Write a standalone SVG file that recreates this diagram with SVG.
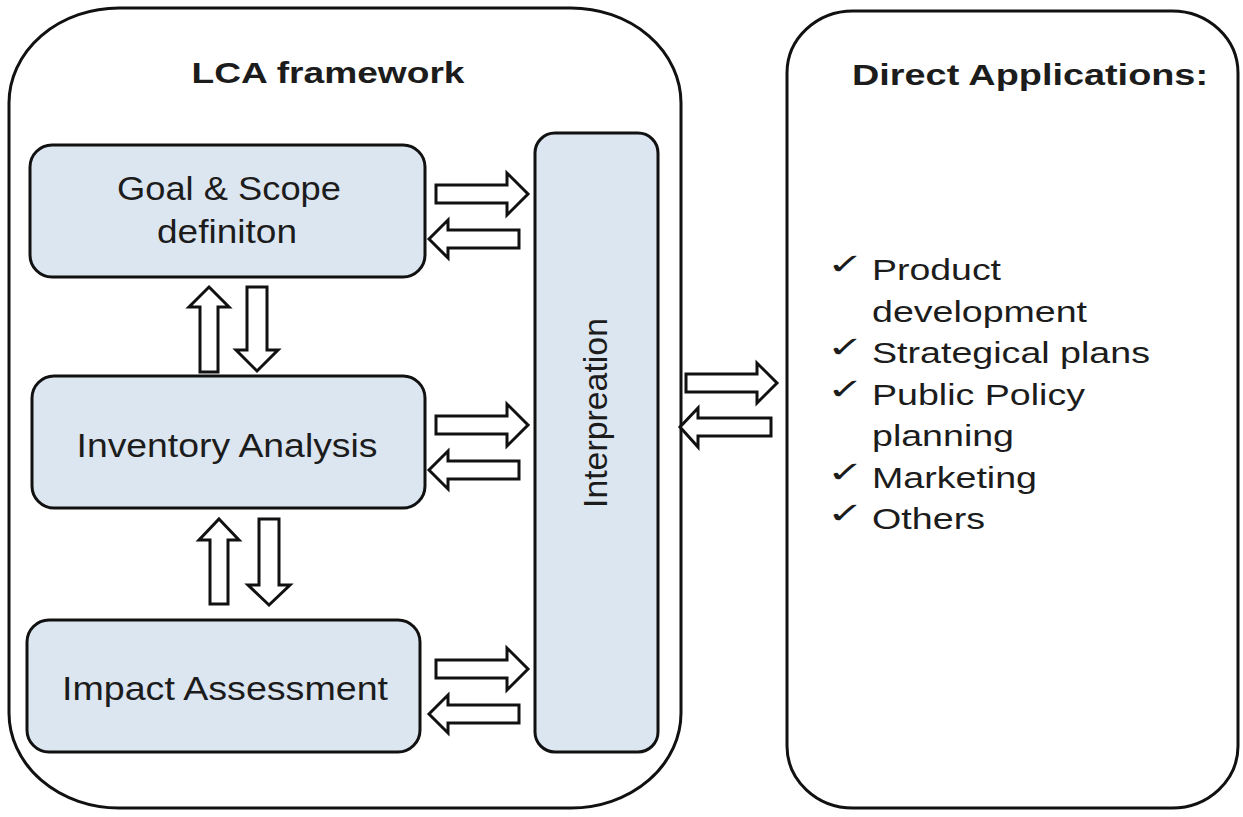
<svg xmlns="http://www.w3.org/2000/svg" width="1243" height="817" viewBox="0 0 1243 817">
<style>
.frame{fill:#ffffff;stroke:#111;stroke-width:3}
.box{fill:#dce6f1;stroke:#111;stroke-width:3}
.arr{fill:#ffffff;stroke:#111;stroke-width:3;stroke-linejoin:miter}
.t{font-family:"Liberation Sans",Arial,sans-serif;fill:#1c1c1c}
.b{font-weight:bold;font-size:30px}
.n{font-size:33px}
.l{font-size:30px}
.ck{font-family:"DejaVu Sans",sans-serif;font-size:34px;fill:#1c1c1c}
</style>
<rect width="1243" height="817" fill="#ffffff"/>

<g id="lca-framework">
<rect class="frame" x="9" y="8" width="672" height="800" rx="110" ry="95"/>
<text class="t b" x="328" y="83" text-anchor="middle" textLength="273" lengthAdjust="spacingAndGlyphs">LCA framework</text>
</g>

<g id="direct-applications">
<rect class="frame" x="787" y="11" width="451" height="797" rx="66" ry="62"/>
<text class="t b" x="852" y="85" textLength="356" lengthAdjust="spacingAndGlyphs">Direct Applications:</text>
<text class="ck" transform="translate(827,274) scale(1.3,0.85)">✓</text>
<text class="ck" transform="translate(827,357) scale(1.3,0.85)">✓</text>
<text class="ck" transform="translate(827,398.5) scale(1.3,0.85)">✓</text>
<text class="ck" transform="translate(827,481.5) scale(1.3,0.85)">✓</text>
<text class="ck" transform="translate(827,523) scale(1.3,0.85)">✓</text>
<text class="t l" x="872" y="280" textLength="129" lengthAdjust="spacingAndGlyphs">Product</text>
<text class="t l" x="872" y="321.5" textLength="215" lengthAdjust="spacingAndGlyphs">development</text>
<text class="t l" x="872" y="363" textLength="278" lengthAdjust="spacingAndGlyphs">Strategical plans</text>
<text class="t l" x="872" y="404.5" textLength="213" lengthAdjust="spacingAndGlyphs">Public Policy</text>
<text class="t l" x="872" y="446" textLength="142" lengthAdjust="spacingAndGlyphs">planning</text>
<text class="t l" x="872" y="487.5" textLength="165" lengthAdjust="spacingAndGlyphs">Marketing</text>
<text class="t l" x="872" y="529" textLength="113" lengthAdjust="spacingAndGlyphs">Others</text>
</g>

<g id="goal-scope">
<rect class="box" x="30" y="145" width="395" height="132" rx="22"/>
<text class="t n" x="229" y="200" text-anchor="middle" textLength="224" lengthAdjust="spacingAndGlyphs">Goal &amp; Scope</text>
<text class="t n" x="227" y="243" text-anchor="middle" textLength="140" lengthAdjust="spacingAndGlyphs">definiton</text>
</g>

<g id="inventory-analysis">
<rect class="box" x="32" y="376" width="393" height="132" rx="22"/>
<text class="t n" x="227" y="457" text-anchor="middle" textLength="301" lengthAdjust="spacingAndGlyphs">Inventory Analysis</text>
</g>

<g id="impact-assessment">
<rect class="box" x="27" y="620" width="393" height="132" rx="22"/>
<text class="t n" x="225" y="700" text-anchor="middle" textLength="326" lengthAdjust="spacingAndGlyphs">Impact Assessment</text>
</g>

<g id="interpretation">
<rect class="box" x="535" y="133" width="123" height="619" rx="20"/>
<text class="t n" transform="translate(607,413) rotate(-90)" x="0" y="0" text-anchor="middle" textLength="190" lengthAdjust="spacingAndGlyphs">Interpreation</text>
</g>

<g id="connectors">
<polygon class="arr" points="436,185 507,185 507,173 528,194 507,215 507,203 436,203"/>
<polygon class="arr" points="519,230 448,230 448,220 429,239 448,258 448,248 519,248"/>
<polygon class="arr" points="436,416 507,416 507,404 528,425 507,446 507,434 436,434"/>
<polygon class="arr" points="519,461 448,461 448,451 429,470 448,489 448,479 519,479"/>
<polygon class="arr" points="436,660 507,660 507,648 528,669 507,690 507,678 436,678"/>
<polygon class="arr" points="519,705 448,705 448,695 429,714 448,733 448,723 519,723"/>
<polygon class="arr" points="686,374 757,374 757,363 777,383 757,403 757,392 686,392"/>
<polygon class="arr" points="771,418 698,418 698,408 680,427 698,447 698,436 771,436"/>
<polygon class="arr" points="209,287 229,307 218,307 218,372 200,372 200,307 189,307"/>
<polygon class="arr" points="247,287 267,287 267,350 278,350 257,371 236,350 247,350"/>
<polygon class="arr" points="219,519 239,540 228,540 228,604 210,604 210,540 199,540"/>
<polygon class="arr" points="259,519 279,519 279,585 290,585 269,605 248,585 259,585"/>
</g>
</svg>
